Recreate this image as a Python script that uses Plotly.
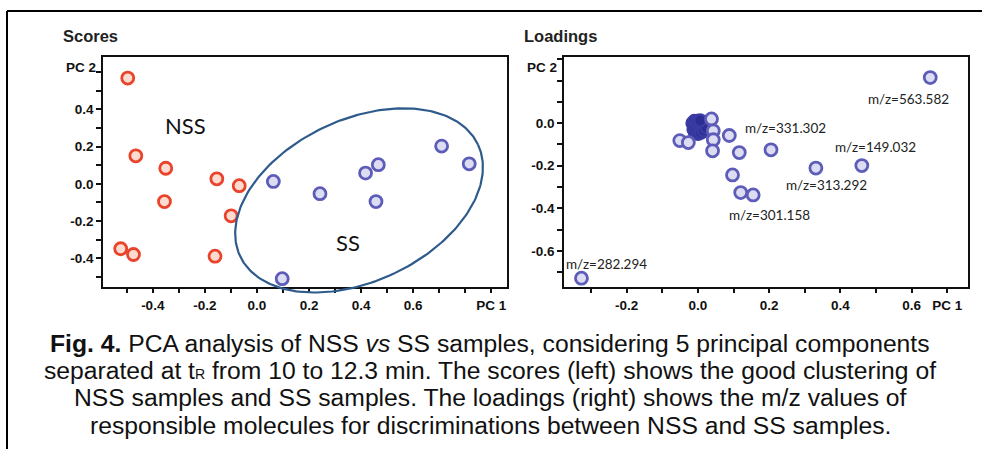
import numpy as np
import plotly.graph_objects as go

W, H = 982, 449

# ---------------- data ----------------
nss_pc1 = [-0.496, -0.465, -0.350, -0.355, -0.154, -0.068, -0.099, -0.523, -0.474, -0.161]
nss_pc2 = [0.569, 0.151, 0.084, -0.095, 0.027, -0.010, -0.172, -0.349, -0.380, -0.389]
ss_pc1 = [0.063, 0.242, 0.417, 0.466, 0.457, 0.709, 0.815, 0.097]
ss_pc2 = [0.013, -0.053, 0.058, 0.103, -0.095, 0.203, 0.108, -0.510]

# SS confidence ellipse: centre and two semi-axis vectors (data units)
ell_center = [0.392, -0.089]
ell_axis_u = [0.457, 0.299]
ell_axis_v = [-0.1315, 0.395]

load_pc1 = [0.652, 0.038, -0.051, -0.027, 0.043, 0.043, 0.041, 0.088, 0.116, 0.205,
            0.097, 0.120, 0.155, 0.331, 0.460, -0.327]
load_pc2 = [0.214, 0.020, -0.082, -0.091, -0.036, -0.078, -0.130, -0.058, -0.138, -0.125,
            -0.243, -0.326, -0.337, -0.211, -0.199, -0.728]
# dense cluster of loadings near the origin
clus_pc1 = [-0.015, -0.010, -0.005, 0.000, 0.005, 0.010, 0.015, 0.020, 0.025, -0.012, -0.004,
            0.004, 0.012, 0.020, -0.008, 0.000, 0.008, 0.016, 0.024, -0.002, 0.006]
clus_pc2 = [0.000, 0.010, -0.010, 0.005, -0.020, 0.000, -0.015, 0.005, -0.010, -0.030, -0.035,
            -0.025, -0.040, -0.030, -0.045, -0.050, -0.045, -0.035, -0.020, 0.010, 0.012]

mz_labels = ["m/z=563.582", "m/z=331.302", "m/z=149.032", "m/z=313.292", "m/z=301.158", "m/z=282.294"]
mz_x = [0.592, 0.246, 0.497, 0.362, 0.200, -0.258]
mz_y = [0.114, -0.021, -0.111, -0.291, -0.431, -0.659]

# axis ranges / ticks
sc_xrange = [-0.591, 0.960]
sc_yrange = [-0.552, 0.685]
ld_xrange = [-0.376, 0.758]
ld_yrange = [-0.767, 0.313]

sc_xticks = [round(-0.5 + 0.1 * i, 1) for i in range(15)]
sc_yticks = [round(-0.5 + 0.1 * i, 1) for i in range(12)]
ld_xticks = [round(-0.3 + 0.1 * i, 1) for i in range(11)]
ld_yticks = [round(-0.7 + 0.1 * i, 1) for i in range(11)]

caption_lines = [
    "<b>Fig. 4.</b> PCA analysis of NSS <i>vs</i> SS samples, considering 5 principal components",
    "separated at t<span style='font-size:14px'>R</span> from 10 to 12.3 min. The scores (left) shows the good clustering of",
    "NSS samples and SS samples. The loadings (right) shows the m/z values of",
    "responsible molecules for discriminations between NSS and SS samples.",
]

# ---------------- layout geometry (pixels) ----------------
def px(x):
    return x / W

def py(y):
    return 1 - y / H

sc_dom_x = [px(103), px(507)]
ld_dom_x = [px(564), px(968)]
dom_y = [py(286.5), py(56.5)]
ell_dom_y = [py(300), py(56.5)]


def ticktext(vals, labeled, special=None):
    out = []
    for v in vals:
        if special and v in special:
            out.append(special[v])
        elif any(abs(v - l) < 1e-9 for l in labeled):
            out.append(f"{v:.1f}")
        else:
            out.append("")
    return out


fig = go.Figure()

red_line, red_fill = "#e9432b", "#fcdcd0"
blue_line, blue_fill = "#5d5db9", "#dcdcf2"

fig.add_trace(go.Scatter(x=nss_pc1, y=nss_pc2, mode="markers", xaxis="x", yaxis="y",
                         marker=dict(size=12, color=red_fill, line=dict(color=red_line, width=2.8)),
                         showlegend=False))
fig.add_trace(go.Scatter(x=ss_pc1, y=ss_pc2, mode="markers", xaxis="x", yaxis="y",
                         marker=dict(size=12, color=blue_fill, line=dict(color=blue_line, width=2.8)),
                         showlegend=False))

t = np.linspace(0, 2 * np.pi, 241)
ex = ell_center[0] + ell_axis_u[0] * np.cos(t) + ell_axis_v[0] * np.sin(t)
ey = ell_center[1] + ell_axis_u[1] * np.cos(t) + ell_axis_v[1] * np.sin(t)
fig.add_trace(go.Scatter(x=ex, y=ey, mode="lines", xaxis="x3", yaxis="y3",
                         line=dict(color="#2f5b8c", width=2.2), showlegend=False))

fig.add_trace(go.Scatter(x=clus_pc1, y=clus_pc2, mode="markers", xaxis="x2", yaxis="y2",
                         marker=dict(size=12, color="#2c2c94", line=dict(color="#3a3aa3", width=2.5)),
                         showlegend=False))
fig.add_trace(go.Scatter(x=load_pc1, y=load_pc2, mode="markers", xaxis="x2", yaxis="y2",
                         marker=dict(size=12, color=blue_fill, line=dict(color=blue_line, width=2.8)),
                         showlegend=False, cliponaxis=False))

axis_common = dict(showline=True, mirror=True, linecolor="#111111", linewidth=1.6,
                   ticks="outside", ticklen=5, tickwidth=1.5, tickcolor="#111111",
                   showgrid=False, zeroline=False, automargin=False,
                   tickfont=dict(family="Liberation Sans", size=13.5, color="#111111", weight="bold"))

ell_yrange = [sc_yrange[1] - (sc_yrange[1] - sc_yrange[0]) * (ell_dom_y[1] - ell_dom_y[0]) / (dom_y[1] - dom_y[0]),
              sc_yrange[1]]

fig.update_layout(
    width=W, height=H, margin=dict(l=0, r=0, t=0, b=0, autoexpand=False),
    paper_bgcolor="white", plot_bgcolor="rgba(0,0,0,0)",
    xaxis=dict(domain=sc_dom_x, range=sc_xrange, anchor="y", tickmode="array", tickvals=sc_xticks,
               ticktext=ticktext(sc_xticks, [-0.4, -0.2, 0.0, 0.2, 0.4, 0.6], {0.9: "PC 1"}), **axis_common),
    yaxis=dict(domain=dom_y, range=sc_yrange, anchor="x", tickmode="array", tickvals=sc_yticks,
               ticktext=ticktext(sc_yticks, [-0.4, -0.2, 0.0, 0.2, 0.4]), **axis_common),
    xaxis2=dict(domain=ld_dom_x, range=ld_xrange, anchor="y2", tickmode="array", tickvals=ld_xticks,
                ticktext=ticktext(ld_xticks, [-0.2, 0.0, 0.2, 0.4, 0.6], {0.7: "PC 1"}), **axis_common),
    yaxis2=dict(domain=dom_y, range=ld_yrange, anchor="x2", tickmode="array", tickvals=ld_yticks,
                ticktext=ticktext(ld_yticks, [-0.6, -0.4, -0.2, 0.0]), **axis_common),
    xaxis3=dict(domain=sc_dom_x, range=sc_xrange, anchor="y3", visible=False, automargin=False),
    yaxis3=dict(domain=ell_dom_y, range=ell_yrange, anchor="x3", visible=False, automargin=False),
)

annos = []
title_font = dict(family="Liberation Sans", size=16.5, color="#222222", weight="bold")
annos.append(dict(x=px(61), y=py(36), xref="paper", yref="paper", text="Scores", showarrow=False,
                  xanchor="left", yanchor="middle", font=title_font))
annos.append(dict(x=px(522), y=py(36), xref="paper", yref="paper", text="Loadings", showarrow=False,
                  xanchor="left", yanchor="middle", font=title_font))
pc_font = dict(family="Liberation Sans", size=13.5, color="#111111", weight="bold")
annos.append(dict(x=px(98), y=py(68), xref="paper", yref="paper", text="PC 2", showarrow=False,
                  xanchor="right", yanchor="middle", font=pc_font))
annos.append(dict(x=px(559), y=py(68), xref="paper", yref="paper", text="PC 2", showarrow=False,
                  xanchor="right", yanchor="middle", font=pc_font))
grp_font = dict(family="Lato", size=22, color="#111111")
annos.append(dict(x=-0.276, y=0.314, xref="x", yref="y", text="NSS", showarrow=False, font=grp_font))
annos.append(dict(x=0.349, y=-0.314, xref="x", yref="y", text="SS", showarrow=False, font=grp_font))
for lab, lx, ly in zip(mz_labels, mz_x, mz_y):
    annos.append(dict(x=lx, y=ly, xref="x2", yref="y2", text=lab, showarrow=False,
                      font=dict(family="Lato", size=13.5, color="#222222")))
cap_y = [343, 370, 397, 425]
for line, yy in zip(caption_lines, cap_y):
    annos.append(dict(x=px(490), y=py(yy), xref="paper", yref="paper", text=line, showarrow=False,
                      xanchor="center", yanchor="middle",
                      font=dict(family="Liberation Sans", size=24.7, color="#111111")))
fig.update_layout(annotations=annos)

fig.update_layout(shapes=[
    dict(type="line", xref="paper", yref="paper", x0=px(7), x1=1, y0=py(11), y1=py(11),
         line=dict(color="black", width=2)),
    dict(type="line", xref="paper", yref="paper", x0=px(7), x1=px(7), y0=py(11), y1=0,
         line=dict(color="black", width=2)),
])

fig.write_html("out.html")
